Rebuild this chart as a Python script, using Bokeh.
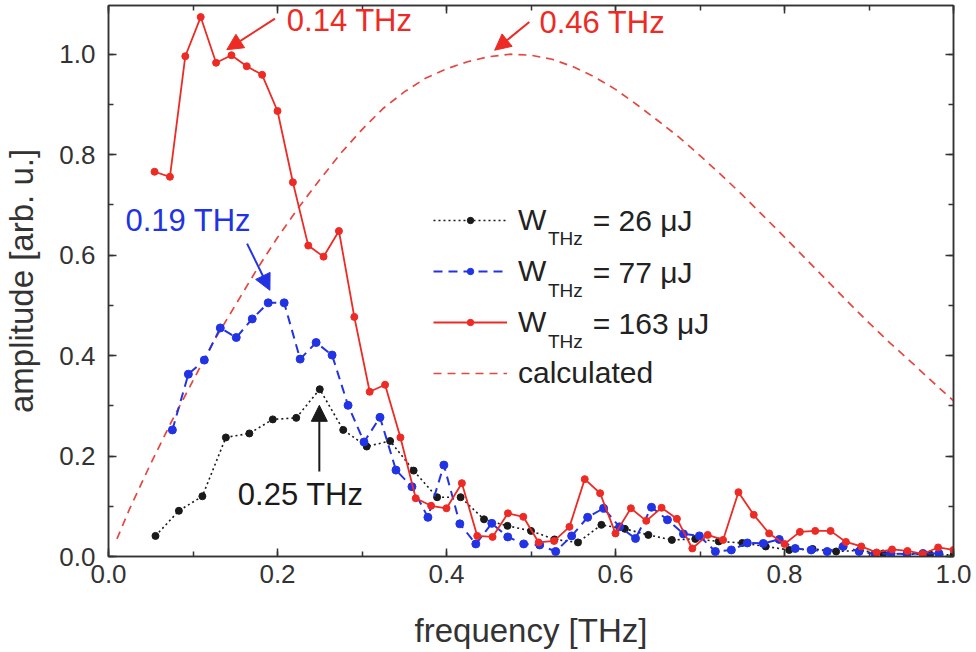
from bokeh.plotting import figure
from bokeh.models import (Range1d, LinearAxis, SingleIntervalTicker, Legend, LegendItem,
                          Label, Arrow, NormalHead, CustomJSTickFormatter, PrintfTickFormatter)
from bokeh.embed import file_html
from bokeh.resources import INLINE

FONT = "Liberation Sans"

# ---------------- data ----------------
f_26 = [0.0556, 0.0833, 0.1111, 0.1389, 0.1667, 0.1944, 0.2222, 0.2500, 0.2778, 0.3056,
        0.3333, 0.3611, 0.3889, 0.4167, 0.4444, 0.4722, 0.5000, 0.5278, 0.5556, 0.5833,
        0.6111, 0.6389, 0.6667, 0.6944, 0.7222, 0.7500, 0.7778, 0.8056, 0.8333, 0.8611,
        0.8889, 0.9167, 0.9444, 0.9722, 1.0000]
a_26 = [0.041, 0.091, 0.120, 0.237, 0.245, 0.273, 0.276, 0.333, 0.252, 0.219,
        0.230, 0.171, 0.118, 0.118, 0.074, 0.061, 0.051, 0.034, 0.028, 0.063,
        0.055, 0.043, 0.033, 0.035, 0.030, 0.027, 0.020, 0.013, 0.015, 0.010,
        0.012, 0.006, 0.005, 0.004, 0.003]

f_77 = [0.0756, 0.0945, 0.1134, 0.1323, 0.1512, 0.1701, 0.1890, 0.2079, 0.2268, 0.2457,
        0.2646, 0.2835, 0.3024, 0.3213, 0.3402, 0.3591, 0.3780, 0.3969, 0.4158, 0.4347,
        0.4536, 0.4725, 0.4914, 0.5103, 0.5292, 0.5481, 0.5670, 0.5859, 0.6048, 0.6237,
        0.6426, 0.6615, 0.6804, 0.6993, 0.7182, 0.7371, 0.7560, 0.7749, 0.7938, 0.8127,
        0.8316, 0.8505, 0.8694, 0.8883, 0.9072, 0.9261, 0.9450, 0.9639, 0.9828]
a_77 = [0.252, 0.363, 0.391, 0.455, 0.436, 0.473, 0.505, 0.505, 0.393, 0.426,
        0.401, 0.301, 0.228, 0.277, 0.172, 0.139, 0.078, 0.182, 0.065, 0.025,
        0.066, 0.039, 0.025, 0.023, 0.010, 0.041, 0.078, 0.096, 0.059, 0.036,
        0.098, 0.073, 0.045, 0.041, 0.010, 0.013, 0.027, 0.026, 0.034, 0.016,
        0.013, 0.010, 0.020, 0.010, 0.005, 0.006, 0.005, 0.006, 0.006]

f_163 = [0.0545, 0.0727, 0.0909, 0.1091, 0.1273, 0.1455, 0.1636, 0.1818, 0.2000, 0.2182,
         0.2364, 0.2545, 0.2727, 0.2909, 0.3091, 0.3273, 0.3455, 0.3636, 0.3818, 0.4000,
         0.4182, 0.4364, 0.4545, 0.4727, 0.4909, 0.5091, 0.5273, 0.5455, 0.5636, 0.5818,
         0.6000, 0.6182, 0.6364, 0.6545, 0.6727, 0.6909, 0.7091, 0.7273, 0.7455, 0.7636,
         0.7818, 0.8000, 0.8182, 0.8364, 0.8545, 0.8727, 0.8909, 0.9091, 0.9273, 0.9455,
         0.9636, 0.9818, 1.0000]
a_163 = [0.766, 0.756, 0.996, 1.074, 0.983, 0.998, 0.976, 0.959, 0.887, 0.745,
         0.619, 0.597, 0.648, 0.477, 0.328, 0.342, 0.237, 0.116, 0.101, 0.096,
         0.146, 0.041, 0.039, 0.086, 0.079, 0.028, 0.031, 0.059, 0.154, 0.126,
         0.046, 0.096, 0.071, 0.097, 0.075, 0.016, 0.043, 0.033, 0.128, 0.083,
         0.046, 0.025, 0.049, 0.051, 0.051, 0.029, 0.020, 0.008, 0.014, 0.011,
         0.005, 0.018, 0.013]

f_calc = [0.010, 0.025, 0.050, 0.075, 0.100, 0.125, 0.150, 0.175, 0.200, 0.225,
          0.250, 0.275, 0.300, 0.325, 0.350, 0.375, 0.400, 0.425, 0.450, 0.475,
          0.500, 0.525, 0.550, 0.575, 0.600, 0.625, 0.650, 0.675, 0.700, 0.725,
          0.750, 0.775, 0.800, 0.825, 0.850, 0.875, 0.900, 0.925, 0.950, 0.975, 1.000]
a_calc = [0.035, 0.095, 0.185, 0.270, 0.350, 0.430, 0.500, 0.570, 0.635, 0.695,
          0.750, 0.803, 0.850, 0.892, 0.925, 0.952, 0.971, 0.985, 0.995, 1.000,
          0.998, 0.990, 0.975, 0.955, 0.930, 0.900, 0.868, 0.835, 0.798, 0.760,
          0.720, 0.678, 0.636, 0.593, 0.550, 0.507, 0.465, 0.425, 0.387, 0.348, 0.310]

legend_values = ["= 26 \u03bcJ", "= 77 \u03bcJ", "= 163 \u03bcJ"]

RED = "#ee2a24"
BLUE = "#2233e6"
BLACK = "#1a1a1a"
CALC = "#e5473f"

# ---------------- figure ----------------
p = figure(width=976, height=652, output_backend="svg", toolbar_location=None,
           x_range=Range1d(0, 1.0), y_range=Range1d(0, 1.097),
           min_border_left=108, min_border_right=23, min_border_top=5,
           min_border_bottom=96)
p.background_fill_color = "white"
p.border_fill_color = "white"
p.xgrid.visible = False
p.ygrid.visible = False
p.outline_line_color = "#333333"
p.outline_line_width = 1.5

xt = SingleIntervalTicker(interval=0.2, num_minor_ticks=2)
yt = SingleIntervalTicker(interval=0.2, num_minor_ticks=2)

def style_axis(ax):
    ax.axis_line_color = "#333333"
    ax.axis_line_width = 1.5
    ax.major_tick_in = 8
    ax.major_tick_out = 0
    ax.minor_tick_in = 5
    ax.minor_tick_out = 0
    ax.major_tick_line_color = "#333333"
    ax.minor_tick_line_color = "#333333"
    ax.major_tick_line_width = 1.5
    ax.minor_tick_line_width = 1.5
    ax.major_label_text_font = FONT
    ax.major_label_text_font_size = "26px"
    ax.major_label_text_color = "#333333"
    ax.axis_label_text_font = FONT
    ax.axis_label_text_font_size = "33px"
    ax.axis_label_text_font_style = "normal"
    ax.axis_label_text_color = "#333333"

p.xaxis.ticker = xt
p.yaxis.ticker = yt
style_axis(p.xaxis[0])
style_axis(p.yaxis[0])
p.xaxis.formatter = PrintfTickFormatter(format="%.1f")
p.yaxis.formatter = PrintfTickFormatter(format="%.1f")
p.xaxis.axis_label = "frequency [THz]"
p.yaxis.axis_label = "amplitude [arb. u.]"
p.xaxis.major_label_standoff = 8
p.xaxis.axis_label_standoff = 26
p.yaxis.major_label_standoff = 13
p.yaxis.axis_label_standoff = 16

blank = CustomJSTickFormatter(code="return ''")
top_ax = LinearAxis(ticker=xt, formatter=blank, major_label_standoff=0)
right_ax = LinearAxis(ticker=yt, formatter=blank, major_label_standoff=0)
style_axis(top_ax)
style_axis(right_ax)
top_ax.major_label_text_font_size = "0px"
right_ax.major_label_text_font_size = "0px"
p.add_layout(top_ax, "above")
p.add_layout(right_ax, "right")

# ---------------- series ----------------
calc_r = p.line(f_calc, a_calc, line_color=CALC, line_width=1.7, line_dash="8 6")

l26 = p.line(f_26, a_26, line_color=BLACK, line_width=1.6, line_dash="2 3")
s26 = p.scatter(f_26, a_26, size=7, fill_color=BLACK, line_color=BLACK)

l77 = p.line(f_77, a_77, line_color=BLUE, line_width=2, line_dash="9 6")
s77 = p.scatter(f_77, a_77, size=8, fill_color=BLUE, line_color=BLUE)

l163 = p.line(f_163, a_163, line_color=RED, line_width=1.8)
s163 = p.scatter(f_163, a_163, size=7, fill_color=RED, line_color=RED)

legend = Legend(items=[
    LegendItem(label="W", renderers=[l26, s26]),
    LegendItem(label="W", renderers=[l77, s77]),
    LegendItem(label="W", renderers=[l163, s163]),
    LegendItem(label="calculated", renderers=[calc_r]),
], location=(325, 163), orientation="vertical")
legend.glyph_width = 74
legend.glyph_height = 16
legend.label_height = 40
legend.spacing = 11
legend.padding = 0
legend.margin = 0
legend.label_standoff = 11
legend.border_line_color = None
legend.background_fill_alpha = 0
legend.label_text_font = FONT
legend.label_text_font_size = "30px"
legend.label_text_color = "#222222"
p.add_layout(legend, "center")

# subscripts and values of legend labels
sub_y = [0.6324, 0.5298, 0.4282]
val_y = [0.668, 0.566, 0.464]
for sy, vy, txt in zip(sub_y, val_y, legend_values):
    p.add_layout(Label(x=0.520, y=sy, text="THz", text_font=FONT, text_font_size="19px",
                       text_color="#222222", text_baseline="middle"))
    p.add_layout(Label(x=0.573, y=vy, text=txt, text_font=FONT, text_font_size="30px",
                       text_color="#222222", text_baseline="middle"))

# ---------------- annotations ----------------
def note(x, y, text, color):
    p.add_layout(Label(x=x, y=y, text=text, text_font=FONT, text_font_size="31px",
                       text_color=color, text_baseline="middle"))

def arrow(x0, y0, x1, y1, color):
    p.add_layout(Arrow(x_start=x0, y_start=y0, x_end=x1, y_end=y1,
                       line_color=color, line_width=2,
                       end=NormalHead(size=16, fill_color=color, line_color=color)))

note(0.211, 1.068, "0.14 THz", RED)
arrow(0.197, 1.071, 0.140, 1.009, RED)
note(0.510, 1.064, "0.46 THz", RED)
arrow(0.498, 1.064, 0.457, 1.008, RED)
note(0.020, 0.668, "0.19 THz", BLUE)
arrow(0.164, 0.623, 0.191, 0.530, BLUE)
note(0.153, 0.124, "0.25 THz", BLACK)
arrow(0.2495, 0.169, 0.2495, 0.301, BLACK)

open("out.html", "w").write(file_html(p, INLINE))
